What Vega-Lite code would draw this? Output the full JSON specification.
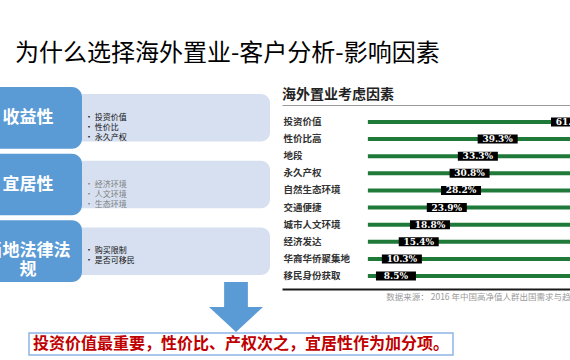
{
  "$schema": "https://vega.github.io/schema/vega-lite/v6.json",
  "background": "white",
  "padding": {"left": 0, "top": 41, "right": 0, "bottom": 0},
  "title": {"text": "为什么选择海外置业-客户分析-影响因素", "anchor": "start", "dx": 15, "fontSize": 24, "fontWeight": "normal", "color": "#000000", "offset": 16},
  "config": {"view": {"stroke": null}, "font": "Noto Sans CJK SC"},
  "spacing": -3,
  "vconcat": [
    {
      "spacing": 12,
      "hconcat": [
        {
          "spacing": -4,
          "vconcat": [
            {
              "spacing": 0,
              "hconcat": [
                {
                  "width": 82,
                  "height": 195,
                  "data": {"values": [
                    {"cat": "收益性", "label": "收益性"},
                    {"cat": "宜居性", "label": "宜居性"},
                    {"cat": "当地法律法规", "label": "当地法律法\n规"}
                  ]},
                  "encoding": {"y": {"field": "cat", "type": "nominal", "sort": null, "axis": null, "scale": {"paddingInner": 0.075, "paddingOuter": 0}}},
                  "layer": [
                    {"mark": {"type": "bar", "color": "#5B9BD5", "cornerRadiusTopRight": 10, "cornerRadiusBottomRight": 10}},
                    {"mark": {"type": "text", "color": "white", "fontSize": 17, "fontWeight": "bold", "dx": -13, "lineBreak": "\n", "lineHeight": 19, "clip": true},
                     "encoding": {"text": {"field": "label"}}}
                  ]
                },
                {
                  "width": 188,
                  "height": 195,
                  "data": {"values": [
                    {"cat": "收益性", "items": "• 投资价值\n• 性价比\n• 永久产权"},
                    {"cat": "宜居性", "items": "• 经济环境\n• 人文环境\n• 生态环境"},
                    {"cat": "当地法律法规", "items": "• 购买限制\n• 是否可移民"}
                  ]},
                  "encoding": {"y": {"field": "cat", "type": "nominal", "sort": null, "axis": null, "scale": {"paddingInner": 0.075, "paddingOuter": 0}}},
                  "layer": [
                    {"mark": {"type": "bar", "color": "#D7E0F0", "cornerRadiusTopRight": 9, "cornerRadiusBottomRight": 9, "height": {"band": 0.77}}},
                    {"mark": {"type": "text", "align": "left", "fontSize": 8, "dx": -91, "lineBreak": "\n", "lineHeight": 10},
                     "encoding": {
                       "text": {"field": "items"},
                       "color": {"condition": {"test": "datum.cat === '宜居性'", "value": "#808080"}, "value": "#111111"}
                     }}
                  ]
                }
              ]
            },
            {
              "spacing": 0,
              "hconcat": [
                {"width": 209, "height": 50, "data": {"values": [{}]}, "mark": {"type": "text"}, "encoding": {"text": {"value": ""}}},
                {"width": 54, "height": 50, "data": {"values": [{}]},
                 "mark": {"type": "point", "shape": "M-0.44,-0.93L0.44,-0.93L0.44,0L1,0L0,0.93L-1,0L-0.44,0Z", "size": 2916, "filled": true, "color": "#5B9BD5", "opacity": 1, "strokeWidth": 0}}
              ]
            }
          ]
        },
        {
          "spacing": -5,
          "vconcat": [
            {"width": 288, "height": 1, "data": {"values": [{}]}, "mark": {"type": "text"}, "encoding": {"text": {"value": ""}}},
            {
              "width": 288,
              "height": 184,
              "title": {"text": "海外置业考虑因素", "anchor": "start", "fontSize": 14, "fontWeight": "bold", "color": "#222222", "offset": 3},
              "data": {"values": [
                {"factor": "投资价值", "pct": 0.615},
                {"factor": "性价比高", "pct": 0.393},
                {"factor": "地段", "pct": 0.333},
                {"factor": "永久产权", "pct": 0.308},
                {"factor": "自然生态环境", "pct": 0.282},
                {"factor": "交通便捷", "pct": 0.239},
                {"factor": "城市人文环境", "pct": 0.188},
                {"factor": "经济发达", "pct": 0.154},
                {"factor": "华裔华侨聚集地", "pct": 0.103},
                {"factor": "移民身份获取", "pct": 0.085}
              ]},
              "encoding": {"y": {"field": "factor", "type": "nominal", "sort": null,
                "scale": {"paddingInner": 0, "paddingOuter": 0.377, "align": 0.655},
                "axis": {"orient": "left", "title": null, "domain": false, "ticks": false, "tickSize": 0, "labelAlign": "left", "labelPadding": -1, "labelFontSize": 9.5, "labelFontWeight": "bold", "labelColor": "#333333", "labelBaseline": "middle"}}},
              "layer": [
                {"mark": {"type": "bar", "height": 4, "color": "#1F7A3A", "clip": true},
                 "encoding": {
                   "x": {"datum": 0, "type": "quantitative", "scale": {"domain": [-0.26, 0.612], "nice": false, "zero": false},
                         "axis": {"orient": "top", "labels": false, "ticks": false, "grid": false, "title": null, "domainColor": "#9A9A9A", "domainWidth": 1}},
                   "x2": {"datum": 1}
                 }},
                {"mark": {"type": "tick", "thickness": 40, "size": 9, "color": "#000000", "opacity": 1, "clip": true},
                 "encoding": {
                   "x": {"field": "pct", "type": "quantitative", "scale": {"domain": [-0.26, 0.612], "nice": false, "zero": false},
                         "axis": {"orient": "bottom", "labels": false, "ticks": false, "grid": false, "domainColor": "#1A1A1A", "domainWidth": 2,
                                  "title": "数据来源： 2016 年中国高净值人群出国需求与趋", "titleFontSize": 8.5, "titleFontWeight": "normal", "titleColor": "#9A9A9A", "titleAnchor": "end", "titlePadding": 3}}
                 }},
                {"mark": {"type": "text", "color": "white", "font": "DejaVu Serif", "fontWeight": "bold", "fontSize": 9, "clip": true},
                 "encoding": {
                   "x": {"field": "pct", "type": "quantitative", "axis": null},
                   "text": {"field": "pct", "type": "quantitative", "format": ".1%"}
                 }}
              ],
              "resolve": {"axis": {"x": "independent"}}
            }
          ]
        }
      ]
    },
    {
      "spacing": 0,
      "hconcat": [
        {"width": 28, "height": 22, "data": {"values": [{}]}, "mark": {"type": "text"}, "encoding": {"text": {"value": ""}}},
        {"width": 424, "height": 22, "view": {"stroke": "#8EB4E3", "strokeWidth": 1.5},
         "data": {"values": [{"note": "投资价值最重要，性价比、产权次之，宜居性作为加分项。"}]},
         "mark": {"type": "text", "color": "#C00000", "fontSize": 16, "fontWeight": "bold"},
         "encoding": {"text": {"field": "note"}}}
      ]
    }
  ]
}
